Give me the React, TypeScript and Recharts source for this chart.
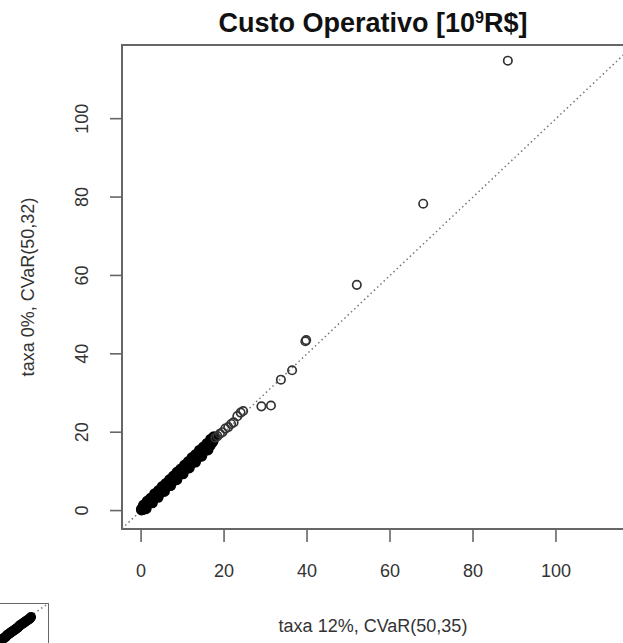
import React from "react";
import {
  ReferenceArea,
  ReferenceLine,
  Scatter,
  ScatterChart,
  XAxis,
  YAxis
} from "recharts";

// taxa 12% (x) vs taxa 0% (y), custo operativo em 10^9 R$
// faixa densa perto da origem (centenas de pontos sobrepostos)
const denseX = [
  0.1, 0.3, 0.5, 0.8, 1.0, 1.3, 1.6, 1.9, 2.2, 2.5, 2.8, 3.1, 3.4, 3.7, 4.0, 4.3, 4.6, 4.9, 5.2, 5.5,
  5.8, 6.1, 6.4, 6.7, 7.0, 7.3, 7.6, 7.9, 8.2, 8.5, 8.8, 9.1, 9.4, 9.7, 10.0, 10.3, 10.6, 10.9, 11.2,
  11.5, 11.8, 12.1, 12.4, 12.7, 13.0, 13.3, 13.6, 13.9, 14.2, 14.5, 14.8, 15.1, 15.4, 15.7, 16.0, 16.3,
  16.6, 16.9, 17.2
];
const denseY = [
  0.2, 0.4, 0.3, 0.9, 1.2, 1.2, 1.8, 2.0, 2.1, 2.7, 2.9, 3.0, 3.6, 3.8, 3.9, 4.5, 4.7, 4.8, 5.4, 5.6,
  5.7, 6.3, 6.5, 6.6, 7.2, 7.4, 7.5, 8.1, 8.4, 8.4, 9.0, 9.2, 9.3, 9.9, 10.2, 10.2, 10.8, 11.1, 11.1,
  11.8, 12.0, 12.0, 12.7, 12.9, 12.9, 13.6, 13.8, 13.8, 14.5, 14.7, 14.7, 15.4, 15.6, 15.6, 16.3, 16.6,
  16.6, 17.2, 17.5
];
const midX = [
  0.2, 0.65, 1.15, 1.75, 2.35, 2.95, 3.55, 4.15, 4.75, 5.35, 5.95, 6.55, 7.15, 7.75, 8.35, 8.95, 9.55,
  10.15, 10.75, 11.35, 11.95, 12.55, 13.15, 13.75, 14.35, 14.95, 15.55, 16.15, 16.75, 17.35
];
const midY = [
  0.5, 0.9, 1.5, 2.2, 2.7, 3.4, 3.9, 4.6, 5.1, 5.8, 6.3, 7.0, 7.5, 8.2, 8.7, 9.4, 9.9, 10.6, 11.1, 11.8,
  12.3, 13.0, 13.5, 14.2, 14.7, 15.4, 15.9, 16.6, 17.1, 17.9
];
const upperX = [0.6, 1.5, 2.4, 3.3, 4.2, 5.1, 6.0, 6.9, 7.8, 8.7, 9.6, 10.5, 11.4, 12.3, 13.2, 14.1, 15.0, 15.9, 16.8, 17.5];
const upperY = [1.4, 2.4, 3.2, 4.3, 5.1, 6.1, 6.9, 7.9, 8.8, 9.8, 10.6, 11.6, 12.5, 13.5, 14.3, 15.4, 16.2, 17.1, 18.2, 18.8];
const lowerX = [1.2, 2.7, 4.1, 5.6, 7.1, 8.6, 10.1, 11.6, 13.1, 14.6, 16.1];
const lowerY = [0.5, 2.0, 3.4, 4.9, 6.4, 7.9, 9.4, 10.9, 12.4, 13.9, 15.5];
const sparseX = [
  17.9, 18.4, 19.0, 19.6, 20.3, 21.0, 21.7, 22.3, 23.2, 24.0, 24.6, 29.0, 31.3, 33.7, 36.4, 39.6, 39.8,
  52.0, 68.0, 88.4
];
const sparseY = [
  18.6, 19.0, 19.6, 20.0, 20.9, 21.3, 22.1, 22.5, 24.1, 25.0, 25.4, 26.6, 26.8, 33.4, 35.8, 43.2, 43.5,
  57.6, 78.3, 114.8
];

const xTicks = [0, 20, 40, 60, 80, 100];
const yTicks = [0, 20, 40, 60, 80, 100];
const xDomain: [number, number] = [-4.6, 116.4];
const yDomain: [number, number] = [-4.7, 118.8];

// recorte do painel seguinte (canto inferior esquerdo)
const insetX = [50, 51, 52, 53, 54, 55, 56, 57, 58, 59, 60, 61, 62, 63, 64, 65, 66, 67, 68, 69, 70, 71, 72, 73, 74, 75, 76, 77, 78, 79, 80, 81, 82];
const insetY = [45, 46, 47, 48, 49, 50, 51, 52, 54, 55, 56, 57, 58, 59, 60, 61, 62, 63, 64, 65, 67, 68, 69, 70, 71, 72, 73, 74, 75, 76, 77, 78, 80];

const zip = (xs: number[], ys: number[]) => xs.map((x, i) => ({ x, y: ys[i] }));
const bandPoints = [
  ...zip(denseX, denseY),
  ...zip(midX, midY),
  ...zip(upperX, upperY),
  ...zip(lowerX, lowerY)
];
const sparsePoints = zip(sparseX, sparseY);
const insetPoints = zip(insetX, insetY);

const font = "'Liberation Sans', Arial, sans-serif";
const frame = "#666";

const OpenCircle = (props: any) => (
  <circle cx={props.cx} cy={props.cy} r={4.2} fill="none" stroke="#333" strokeWidth={1.7} />
);

const BandCircle = (props: any) => (
  <circle cx={props.cx} cy={props.cy} r={3.9} fill="none" stroke="#000" strokeWidth={3.4} />
);

const InsetDot = (props: any) => (
  <circle cx={props.cx} cy={props.cy} r={3.4} fill="none" stroke="#000" strokeWidth={3.4} />
);

const YTick = (props: any) => {
  const { y, payload } = props;
  return (
    <text
      x={82}
      y={y}
      transform={`rotate(-90, 82, ${y})`}
      textAnchor="middle"
      dominantBaseline="central"
      fill="#333"
      fontSize={18}
      fontFamily={font}
    >
      {payload.value}
    </text>
  );
};

export default function App() {
  return (
    <div
      style={{
        position: "absolute",
        left: 0,
        top: 0,
        width: 623,
        height: 643,
        overflow: "hidden",
        background: "#fff"
      }}
    >
      <div
        style={{
          position: "absolute",
          left: 0,
          top: 4,
          width: 746,
          textAlign: "center",
          fontFamily: font,
          fontWeight: "bold",
          fontSize: 27,
          lineHeight: "27px",
          color: "#111"
        }}
      >
        Custo Operativo [10<span style={{ fontSize: "0.6em", verticalAlign: "0.55em" }}>9</span>R$]
      </div>

      <ScatterChart width={650} height={643} margin={{ top: 45, right: 26, bottom: 54, left: 0 }}>
        <XAxis
          type="number"
          dataKey="x"
          domain={xDomain}
          allowDataOverflow
          ticks={xTicks}
          axisLine={false}
          tickSize={13}
          tickMargin={22}
          tickLine={{ stroke: frame, strokeWidth: 1.6 }}
          tick={{ fill: "#333", fontSize: 18, fontFamily: font }}
          height={60}
          label={{
            value: "taxa 12%, CVaR(50,35)",
            position: "bottom",
            offset: 30,
            fill: "#333",
            fontSize: 18,
            fontFamily: font
          }}
        />
        <YAxis
          type="number"
          dataKey="y"
          domain={yDomain}
          allowDataOverflow
          ticks={yTicks}
          axisLine={false}
          width={122}
          tickSize={12}
          tickMargin={0}
          tickLine={{ stroke: frame, strokeWidth: 1.6 }}
          tick={<YTick />}
          label={{
            value: "taxa 0%, CVaR(50,32)",
            angle: -90,
            position: "insideLeft",
            offset: 28,
            fill: "#333",
            fontSize: 18,
            fontFamily: font,
            style: { textAnchor: "middle" }
          }}
        />
        <ReferenceArea
          x1={xDomain[0]}
          x2={xDomain[1]}
          y1={yDomain[0]}
          y2={yDomain[1]}
          fill="none"
          fillOpacity={0}
          stroke={frame}
          strokeWidth={2}
          ifOverflow="visible"
        />
        <ReferenceLine
          segment={[
            { x: -4.6, y: -4.6 },
            { x: 116.4, y: 116.4 }
          ]}
          stroke="#777"
          strokeWidth={1.5}
          strokeDasharray="1.5 3"
          ifOverflow="visible"
        />
        <Scatter data={bandPoints} shape={<BandCircle />} isAnimationActive={false} />
        <Scatter data={sparsePoints} shape={<OpenCircle />} isAnimationActive={false} />
      </ScatterChart>

      <div style={{ position: "absolute", left: -51, top: 603 }}>
        <ScatterChart width={100} height={70} margin={{ top: 0, right: 0, bottom: 0, left: 0 }}>
          <XAxis type="number" dataKey="x" domain={[0, 100]} hide />
          <YAxis type="number" dataKey="y" domain={[0, 100]} hide />
          <ReferenceArea
            x1={0}
            x2={100}
            y1={0}
            y2={100}
            fill="none"
            fillOpacity={0}
            stroke={frame}
            strokeWidth={2}
            ifOverflow="visible"
          />
          <ReferenceLine
            segment={[
              { x: 0, y: 0 },
              { x: 100, y: 100 }
            ]}
            stroke="#777"
            strokeWidth={1.5}
            strokeDasharray="1.5 3"
            ifOverflow="visible"
          />
          <Scatter data={insetPoints} shape={<InsetDot />} isAnimationActive={false} />
        </ScatterChart>
      </div>
    </div>
  );
}
